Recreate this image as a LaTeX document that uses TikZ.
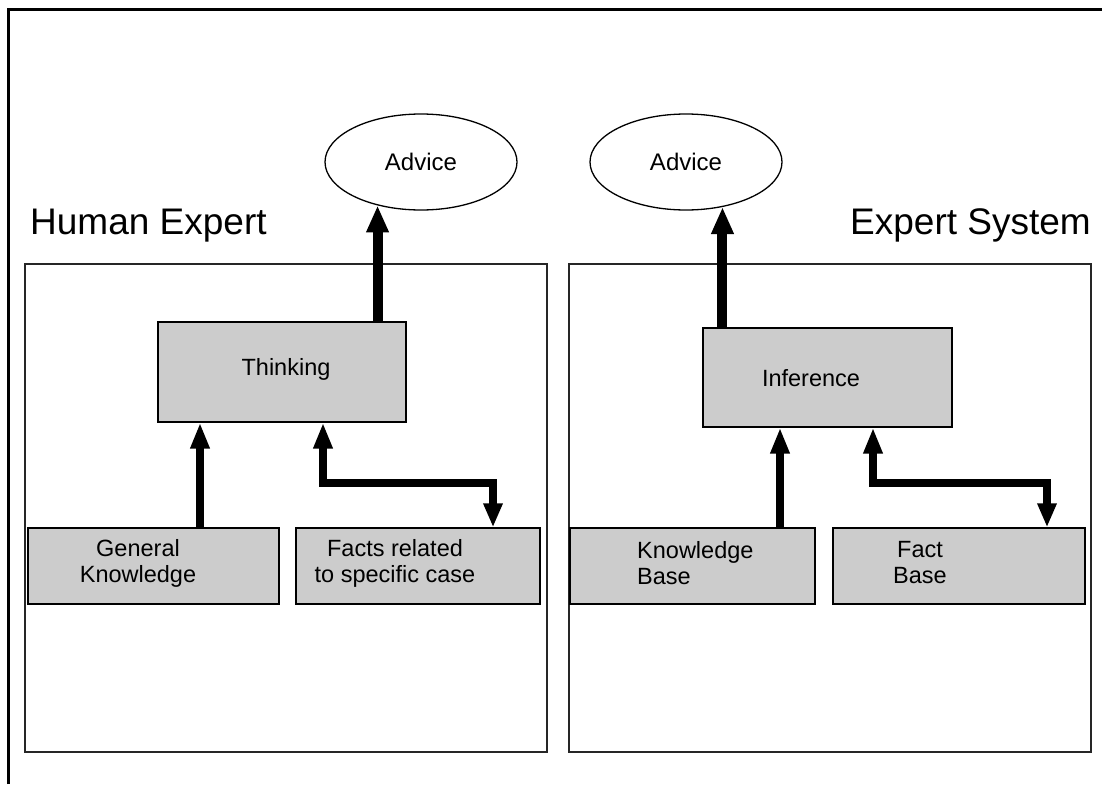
\documentclass[tikz,border=0pt]{standalone}
\usepackage{fontspec}
\setmainfont{Liberation Sans}
\usetikzlibrary{arrows.meta,shapes.geometric}
\begin{document}
\begin{tikzpicture}[x=1pt,y=-1pt,
  panel/.style={draw=black!85, line width=1.2pt, inner sep=0pt},
  shaded/.style={draw, line width=1.3pt, fill=black!20, inner sep=0pt},
  advice/.style={ellipse, draw, line width=1.3pt, inner sep=0pt,
    minimum width=192pt, minimum height=96pt, font=\fontsize{24}{28}\selectfont},
  txt/.style={font=\fontsize{23.5}{26}\selectfont, align=center, inner sep=0pt},
  title/.style={font=\fontsize{37}{42}\selectfont, inner sep=0pt},
  flow/.style={line width=8pt, -{Triangle[width=18pt,length=26pt]}},
  outflow/.style={line width=10pt, -{Triangle[width=21pt,length=27pt]}},
  twoway/.style={line width=8pt, line join=miter,
    {Triangle[width=18pt,length=26pt]}-{Triangle[width=18pt,length=24pt]}}
]
\useasboundingbox (0,0) rectangle (1102,784);
\fill[white] (0,0) rectangle (1102,784);

% outer frame (top and left edges)
\draw[line width=3pt] (8,784) -- (8,10) -- (1102,10);

% titles
\node[title, anchor=base west] (hum) at (30,234) {Human Expert};
\node[title, anchor=base east] (sys) at (1091,234) {Expert System};

% panels
\node[panel, minimum width=522pt, minimum height=488pt] (lpanel) at (286,508) {};
\node[panel, minimum width=522pt, minimum height=488pt] (rpanel) at (830,508) {};

% outputs
\node[advice] (adv1) at (421,162) {Advice};
\node[advice] (adv2) at (686,162) {Advice};

% reasoning boxes
\node[shaded, minimum width=248pt, minimum height=100pt] (think) at (282,372) {};
\node[txt] (think-t) at (286,369) {Thinking};
\node[shaded, minimum width=249pt, minimum height=99pt] (infer) at (827.5,377.5) {};
\node[txt] (infer-t) at (811,378) {Inference};

% knowledge boxes
\node[shaded, minimum width=251pt, minimum height=76pt] (gk) at (153.5,566) {};
\node[txt] (gk-t) at (138,563) {General\\Knowledge};
\node[shaded, minimum width=244pt, minimum height=76pt] (facts) at (418,566) {};
\node[txt] (facts-t) at (395,563) {Facts related\\to specific case};
\node[shaded, minimum width=245pt, minimum height=76pt] (kb) at (692.5,566) {};
\node[txt, align=left, anchor=west] (kb-t) at (637,563) {Knowledge\\Base};
\node[shaded, minimum width=252pt, minimum height=76pt] (fb) at (959,566) {};
\node[txt] (fb-t) at (920,563) {Fact\\Base};

% connector routing points
\coordinate (c1) at (200,0);
\coordinate (j1) at (323,483);
\coordinate (j2) at (493,483);
\coordinate (c2) at (780,0);
\coordinate (j3) at (873,483);
\coordinate (j4) at (1047,483);

% arrows
\draw[outflow] (think.north -| adv1.225) -- (adv1.225);
\draw[outflow] (infer.north -| adv2.309) -- (adv2.309);
\draw[flow] (gk.north -| c1) -- (think.south -| c1);
\draw[twoway] (think.south -| j1) -- (j1) -- (j2) -- (facts.north -| j2);
\draw[flow] (kb.north -| c2) -- (infer.south -| c2);
\draw[twoway] (infer.south -| j3) -- (j3) -- (j4) -- (fb.north -| j4);
\end{tikzpicture}
\end{document}
